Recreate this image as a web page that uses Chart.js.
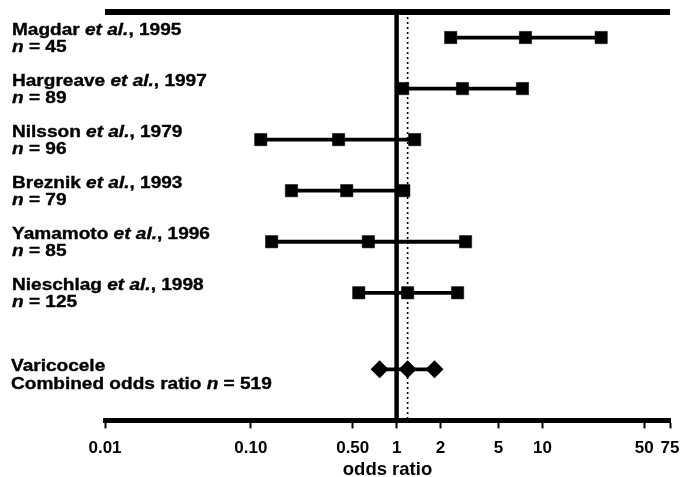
<!DOCTYPE html>
<html><head><meta charset="utf-8">
<script src="https://cdn.jsdelivr.net/npm/chart.js@4.4.1/dist/chart.umd.min.js"></script>
<style>html,body{margin:0;padding:0;background:#fff;}#wrap{width:681px;height:477px;position:relative;}</style>
</head><body><div id="wrap"><canvas id="c"></canvas></div>
<script>
// ---- data ----
const studies = ['Magdar', 'Hargreave', 'Nilsson', 'Breznik', 'Yamamoto', 'Nieschlag'];
const years = [1995, 1997, 1979, 1993, 1996, 1998];
const sampleSizes = [45, 89, 96, 79, 85, 125];
const lowerCI = [2.35, 1.10, 0.117, 0.19, 0.139, 0.55];
const oddsRatios = [7.65, 2.83, 0.40, 0.455, 0.64, 1.19];
const upperCI = [25.3, 7.3, 1.33, 1.12, 2.97, 2.62];
const combinedLabel = 'Varicocele';
const combinedN = 519;
const combinedValues = [0.765, 1.19, 1.82]; // lower, OR, upper
const tickValues = [0.01, 0.1, 0.5, 1, 2, 5, 10, 50, 75];
const tickLabels = ['0.01', '0.10', '0.50', '1', '2', '5', '10', '50', '75'];
const axisTitle = 'odds ratio';

// ---- layout helpers ----
const combinedRow = studies.length + 0.5;
const yMin = -0.5, yMax = combinedRow + 1;
const xMin = tickValues[0], xMax = tickValues[tickValues.length - 1];
const FONT = '"Liberation Sans", Arial, sans-serif';
const SX = 1.19;

const datasets = [];
studies.forEach((s, i) => {
  datasets.push({
    data: [{x: lowerCI[i], y: i}, {x: oddsRatios[i], y: i}, {x: upperCI[i], y: i}],
    showLine: true, borderColor: '#000', borderWidth: 3.8,
    pointStyle: 'rect', pointRadius: 8.7, pointBackgroundColor: '#000',
    pointBorderColor: '#000', pointBorderWidth: 0.5, clip: false
  });
});
datasets.push({
  data: combinedValues.map(v => ({x: v, y: combinedRow})),
  showLine: true, borderColor: '#000', borderWidth: 3.8,
  pointStyle: 'rectRot', pointRadius: 9, pointBackgroundColor: '#000',
  pointBorderColor: '#000', pointBorderWidth: 0, clip: false
});
// reference line at OR = 1
datasets.push({
  data: [{x: 1, y: yMin}, {x: 1, y: yMax}],
  showLine: true, borderColor: '#000', borderWidth: 4.5, pointRadius: 0, clip: false
});
// dotted line at combined OR
datasets.push({
  data: [{x: combinedValues[1], y: yMin}, {x: combinedValues[1], y: yMax}],
  showLine: true, borderColor: '#000', borderWidth: 1.6, borderDash: [2, 3], pointRadius: 0, clip: false
});
// top frame line
datasets.push({
  data: [{x: xMin, y: yMin}, {x: xMax, y: yMin}],
  showLine: true, borderColor: '#000', borderWidth: 6, pointRadius: 0, clip: false
});

function drawRuns(ctx, x, y, runs) {
  ctx.save();
  ctx.translate(x, y);
  ctx.scale(SX, 1);
  ctx.strokeStyle = '#000';
  ctx.lineWidth = 0.35;
  let cx = 0;
  for (const [t, st] of runs) {
    ctx.font = st + ' 16px ' + FONT;
    ctx.fillText(t, cx, 0);
    ctx.strokeText(t, cx, 0);
    cx += ctx.measureText(t).width;
  }
  ctx.restore();
}

const labelPlugin = {
  id: 'studyLabels',
  afterDraw(chart) {
    const ctx = chart.ctx, ys = chart.scales.y;
    ctx.save();
    ctx.fillStyle = '#000';
    ctx.textBaseline = 'middle';
    ctx.textAlign = 'left';
    studies.forEach((name, i) => {
      const py = ys.getPixelForValue(i);
      drawRuns(ctx, 12, py - 7, [[name + ' ', 'bold'], ['et al.', 'italic bold'], [', ' + years[i], 'bold']]);
      drawRuns(ctx, 12, py + 10, [['n', 'italic bold'], [' = ' + sampleSizes[i], 'bold']]);
    });
    const pc = ys.getPixelForValue(combinedRow);
    drawRuns(ctx, 11, pc - 3, [[combinedLabel, 'bold']]);
    drawRuns(ctx, 11, pc + 15, [['Combined odds ratio ', 'bold'], ['n', 'italic bold'], [' = ' + combinedN, 'bold']]);
    ctx.restore();
  }
};

new Chart(document.getElementById('c'), {
  type: 'scatter',
  data: {datasets},
  options: {
    responsive: true, maintainAspectRatio: false, animation: false,
    layout: {padding: {left: 105, right: 11, top: 12, bottom: 0}},
    plugins: {legend: {display: false}, tooltip: {enabled: false}},
    scales: {
      x: {
        type: 'logarithmic', min: xMin, max: xMax, position: 'bottom',
        afterBuildTicks: (s) => { s.ticks = tickValues.map(v => ({value: v})); },
        afterFit: (s) => { s.paddingLeft = 0; s.paddingRight = 0; },
        ticks: {
          autoSkip: false, maxRotation: 0, minRotation: 0, color: '#000', padding: 10,
          font: {family: FONT, size: 17, weight: 'bold'},
          callback: (v, i) => tickLabels[i]
        },
        grid: {display: true, drawOnChartArea: false, drawTicks: true, tickLength: 8, tickWidth: 2, tickColor: '#000', color: '#000'},
        border: {display: true, width: 5, color: '#000'},
        title: {display: true, text: axisTitle, color: '#000', font: {family: FONT, size: 18.5, weight: 'bold'}, padding: {top: -10, bottom: -4}}
      },
      y: {type: 'linear', min: yMin, max: yMax, reverse: true, display: false}
    }
  },
  plugins: [labelPlugin]
});
</script>
</body></html>
